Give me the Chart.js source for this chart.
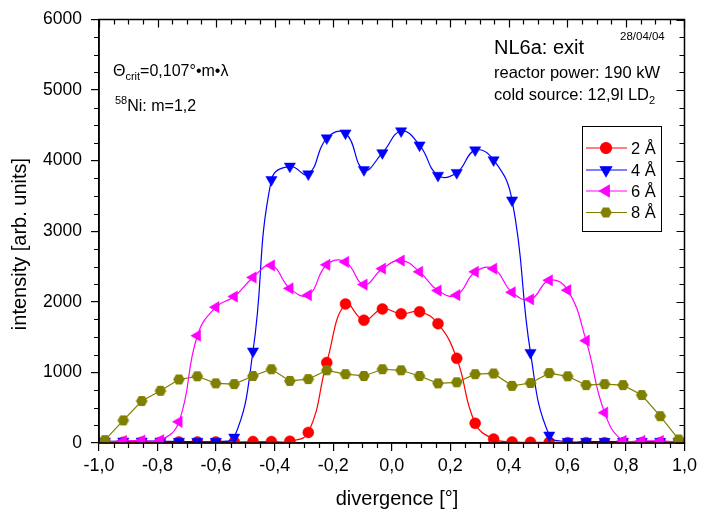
<!DOCTYPE html>
<html lang="en">
<head>
  <meta charset="UTF-8">
  <title>NL6a: exit - divergence</title>
  <script src="https://cdn.jsdelivr.net/npm/chart.js"></script>
  <style>
    html, body { margin: 0; padding: 0; background: #fff; }
  </style>
</head>
<body>
  <canvas id="divChart" width="701" height="517"></canvas>

  <script>
    // divergence positions of the scan [°]
    const divergence = [-0.98, -0.917, -0.854, -0.79, -0.727, -0.664, -0.601, -0.538,
                        -0.474, -0.411, -0.348, -0.285, -0.222, -0.158, -0.095, -0.032,
                        0.032, 0.095, 0.158, 0.222, 0.285, 0.348, 0.411, 0.474,
                        0.538, 0.601, 0.664, 0.727, 0.79, 0.854, 0.917, 0.98];

    // intensity per wavelength [arb. units]
    const int2A = [10, 10, 10, 10, 15, 15, 15, 15, 20, 20, 25, 150, 1140, 1970, 1740, 1900,
                   1830, 1860, 1690, 1200, 280, 55, 15, 10, 10, 5, 5, 5, 5, 5, 5, 5];
    const int4A = [25, 25, 25, 25, 20, 20, 20, 80, 1300, 3730, 3920, 3810, 4320, 4390, 3870, 4110,
                   4420, 4220, 3790, 3830, 4150, 4010, 3440, 1280, 110, 20, 20, 20, 20, 20, 20, 20];
    const int6A = [10, 30, 35, 40, 300, 1520, 1925, 2075, 2345, 2515, 2190, 2095, 2525, 2565, 2245, 2470,
                   2585, 2425, 2160, 2095, 2425, 2470, 2135, 2035, 2305, 2165, 1450, 430, 30, 30, 30, 10];
    const int8A = [40, 320, 595, 740, 900, 945, 845, 835, 950, 1045, 880, 905, 1030, 975, 950, 1045,
                   1030, 950, 845, 860, 975, 985, 810, 850, 990, 945, 820, 835, 820, 680, 380, 50];

    const xTicks = [-1, -0.8, -0.6, -0.4, -0.2, 0, 0.2, 0.4, 0.6, 0.8, 1];
    const yTicks = [0, 1000, 2000, 3000, 4000, 5000, 6000];

    const FONT = '"Liberation Sans", Arial, sans-serif';

    // olive hexagon marker (no built-in hexagon style)
    function hexagon(color, r) {
      const s = Math.ceil(r * 2 + 2);
      const c = document.createElement('canvas');
      c.width = s; c.height = s;
      const g = c.getContext('2d');
      g.beginPath();
      for (let i = 0; i < 6; i++) {
        const a = Math.PI / 3 * i;
        const px = s / 2 + r * Math.cos(a), py = s / 2 + r * Math.sin(a);
        if (i === 0) g.moveTo(px, py); else g.lineTo(px, py);
      }
      g.closePath();
      g.fillStyle = color;
      g.fill();
      return c;
    }

    function series(label, values, color, style, radius, rotation, tension, order) {
      return {
        label: label,
        data: values.map((v, i) => ({ x: divergence[i], y: v })),
        borderColor: color,
        backgroundColor: color,
        borderWidth: 1.2,
        pointStyle: style,
        pointRadius: radius,
        pointRotation: rotation,
        pointBorderWidth: 0.5,
        tension: tension,
        order: order,
        clip: { left: false, top: false, right: false, bottom: 0 }
      };
    }

    const datasets = [
      series('2 Å', int2A, '#ff0000', 'circle', 5.5, 0, 0.45, 4),
      series('4 Å', int4A, '#0000ff', 'triangle', 6.5, 180, 0.45, 3),
      series('6 Å', int6A, '#ff00ff', 'triangle', 6.5, -90, 0.45, 2),
      series('8 Å', int8A, '#808000', hexagon('#808000', 5.8), 6, 0, 0, 1)
    ];

    function fmtComma(v) {
      if (Math.abs(v) < 1e-9) v = 0;
      return v.toFixed(1).replace('.', ',');
    }

    // draws text runs with sub/superscripts, left to right
    function drawRuns(ctx, x, y, runs) {
      for (const r of runs) {
        ctx.font = r.size + 'px ' + FONT;
        ctx.fillText(r.t, x, y + (r.dy || 0));
        x += ctx.measureText(r.t).width;
      }
    }

    const framePlugin = {
      id: 'framePlugin',
      afterDraw(chart) {
        const { ctx, chartArea: a, scales: { x, y } } = chart;
        ctx.save();
        ctx.strokeStyle = '#000';
        ctx.lineWidth = 1.5;
        ctx.strokeRect(a.left, a.top, a.right - a.left, a.bottom - a.top);

        ctx.lineWidth = 1.2;
        ctx.beginPath();
        // x: major 0.2, minor 0.05
        for (let i = 0; i <= 40; i++) {
          const px = Math.round(x.getPixelForValue(-1 + i * 0.05)) + 0.5;
          const major = i % 4 === 0;
          const len = major ? 8 : 5;
          ctx.moveTo(px, a.top); ctx.lineTo(px, a.top + len);
          if (!major) { ctx.moveTo(px, a.bottom); ctx.lineTo(px, a.bottom + len); }
        }
        // y: major 1000, minor 250
        for (let i = 0; i <= 24; i++) {
          const py = Math.round(y.getPixelForValue(i * 250)) + 0.5;
          const major = i % 4 === 0;
          const len = major ? 8 : 5;
          ctx.moveTo(a.right, py); ctx.lineTo(a.right - len, py);
          if (!major) { ctx.moveTo(a.left, py); ctx.lineTo(a.left - len, py); }
        }
        ctx.stroke();

        // axis titles
        ctx.fillStyle = '#000';
        ctx.font = '20px ' + FONT;
        ctx.textAlign = 'center';
        ctx.textBaseline = 'middle';
        ctx.fillText('divergence [°]', 397, 499);
        ctx.save();
        ctx.translate(20, 244);
        ctx.rotate(-Math.PI / 2);
        ctx.fillText('intensity [arb. units]', 0, 0);
        ctx.restore();

        // notes
        ctx.textAlign = 'left';
        ctx.textBaseline = 'alphabetic';
        drawRuns(ctx, 113, 76, [{ t: 'Θ', size: 16 }, { t: 'crit', size: 11, dy: 4 }, { t: '=0,107°•m•λ', size: 16 }]);
        drawRuns(ctx, 115, 111, [{ t: '58', size: 11, dy: -7 }, { t: 'Ni: m=1,2', size: 16 }]);
        drawRuns(ctx, 494, 54, [{ t: 'NL6a: exit', size: 20 }]);
        drawRuns(ctx, 620, 40, [{ t: '28/04/04', size: 11.5 }]);
        drawRuns(ctx, 494, 78, [{ t: 'reactor power: 190 kW', size: 16.5 }]);
        drawRuns(ctx, 494, 100, [{ t: 'cold source: 12,9l LD', size: 16.5 }, { t: '2', size: 11, dy: 4 }]);

        // legend
        ctx.lineWidth = 1;
        ctx.strokeRect(582.5, 126.5, 79, 105);
        const rowY = [148, 170, 191, 212.5];
        datasets.forEach((ds, i) => {
          const cy = rowY[i];
          ctx.strokeStyle = ds.borderColor;
          ctx.lineWidth = 1.2;
          ctx.beginPath();
          ctx.moveTo(586, cy); ctx.lineTo(627, cy);
          ctx.stroke();
          ctx.fillStyle = ds.backgroundColor;
          Chart.helpers.drawPoint(ctx, {
            pointStyle: ds.pointStyle, radius: ds.pointRadius,
            rotation: ds.pointRotation, borderWidth: 0.5
          }, 606, cy);
          ctx.fillStyle = '#000';
          ctx.textBaseline = 'middle';
          ctx.font = '16.5px ' + FONT;
          ctx.fillText(ds.label, 631, cy + 1);
        });
        ctx.restore();
      }
    };

    new Chart(document.getElementById('divChart').getContext('2d'), {
      type: 'line',
      data: { datasets: datasets },
      options: {
        responsive: false,
        animation: false,
        layout: { padding: { top: 15, right: 15, left: 0, bottom: 0 } },
        plugins: { legend: { display: false }, tooltip: { enabled: false } },
        scales: {
          x: {
            type: 'linear', min: -1, max: 1,
            afterBuildTicks: s => { s.ticks = xTicks.map(v => ({ value: v })); },
            afterFit: s => { s.height = 74; },
            ticks: {
              padding: 4, color: '#000', maxRotation: 0, autoSkip: false,
              font: { family: FONT, size: 18 },
              callback: v => fmtComma(v)
            },
            grid: { drawOnChartArea: false, drawTicks: true, tickLength: 8, color: '#000', lineWidth: 1.2 },
            border: { display: true, color: '#000', width: 1.5 }
          },
          y: {
            min: 0, max: 6000,
            afterBuildTicks: s => { s.ticks = yTicks.map(v => ({ value: v })); },
            afterFit: s => { s.width = 99; },
            ticks: {
              padding: 9, color: '#000',
              font: { family: FONT, size: 17.5 },
              callback: v => String(v)
            },
            grid: { drawOnChartArea: false, drawTicks: true, tickLength: 8, color: '#000', lineWidth: 1.2 },
            border: { display: true, color: '#000', width: 1.5 }
          }
        }
      },
      plugins: [framePlugin]
    });
  </script>
</body>
</html>
